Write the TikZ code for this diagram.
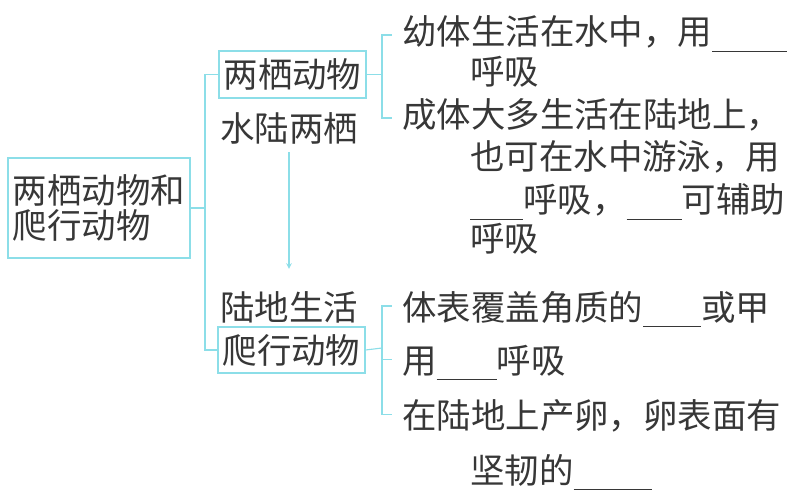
\documentclass[tikz,border=0pt]{standalone}
\usepackage{fontspec}
\newfontfamily\cjk{Noto Sans CJK SC}
\definecolor{lineC}{RGB}{140,222,232}
\definecolor{textC}{RGB}{55,55,55}
\newcommand{\blank}[1]{\rule[-5pt]{#1}{0.7pt}}
\tikzset{
  word/.style={inner sep=0pt,text=textC,font=\cjk\fontsize{24.5}{25.5}\selectfont},
  line/.style={word,anchor=base west},
  box/.style={word,draw=lineC,line width=0.8pt},
  link/.style={draw=lineC,line width=0.8pt}
}
\begin{document}
\begin{tikzpicture}[>=stealth,x=0.025cm,y=-0.025cm]
			\useasboundingbox (0,0) rectangle (798,499);
			\node[box,align=left,minimum width=4.55cm,minimum height=2.5cm] (root) at (99,208) {两栖动物和\\爬行动物};
			\node[box,minimum width=3.675cm,minimum height=1.175cm] (amph) at (292.5,74.5) {两栖动物};
			\node[word] (water) at (289,128) {水陆两栖};
			\node[word] (land) at (289,307) {陆地生活};
			\node[box,minimum width=3.675cm,minimum height=1.15cm] (rept) at (291.5,350) {爬行动物};
			\coordinate (j) at (205,208);
			\draw[link] (root.east) -- (j);
			\draw[link] (amph.west) -| (j) |- (rept.west);
			\draw[link,->,shorten <=0.2cm,shorten >=0.55cm] (water.south) -- (land.north);
			\node[line] (a1) at (402,45) {幼体生活在水中，用\blank{1.875cm}};
			\node[line] (a1b) at (470,85) {呼吸};
			\node[line] (a2) at (402,128) {成体大多生活在陆地上，};
			\node[line] (a2b) at (470,170) {也可在水中游泳，用};
			\node[line] (a2c) at (470,213) {\blank{1.325cm}呼吸，\blank{1.375cm}可辅助};
			\node[line] (a2d) at (470,251) {呼吸};
			\coordinate (ba) at (382,74.5);
			\draw[link] (amph.east) -- (ba);
			\draw[link] ([xshift=-0.25cm,yshift=0.25cm]a1.base west) -| (ba) |- ([xshift=-0.25cm,yshift=0.25cm]a2.base west);
			\node[line] (r1) at (402,320) {体表覆盖角质的\blank{1.45cm}或甲};
			\node[line] (r2) at (402,373) {用\blank{1.5cm}呼吸};
			\node[line] (r3) at (402,428) {在陆地上产卵，卵表面有};
			\node[line] (r3b) at (470,483) {坚韧的\blank{1.95cm}};
			\coordinate (bb) at (382,348);
			\draw[link] (rept.east) -- (bb);
			\draw[link] ([xshift=-0.25cm,yshift=0.35cm]r1.base west) -| (bb) |- ([xshift=-0.25cm,yshift=0.33cm]r3.base west);
			\draw[link] (bb |- r2.base west) ++(0,0.33cm) coordinate (bm) -- ([xshift=-0.25cm]bm -| r2.base west);
		\end{tikzpicture}
\end{document}
